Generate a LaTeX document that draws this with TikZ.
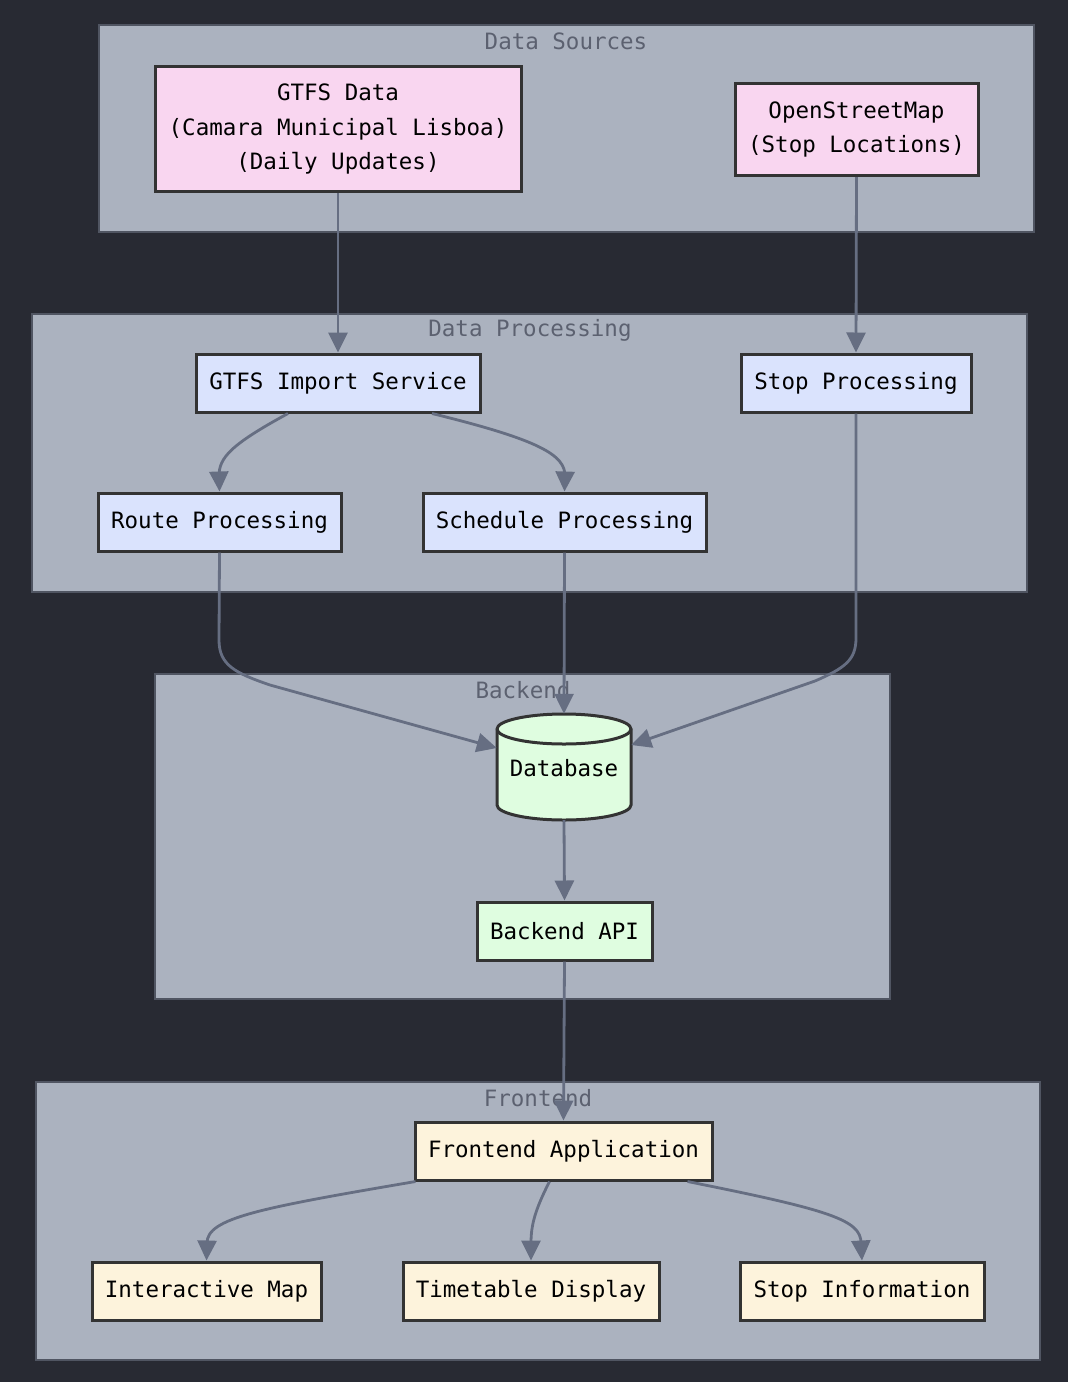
\documentclass[tikz,border=0pt]{standalone}
\usepackage{fontspec}
\setmainfont{DejaVu Sans Mono}
\usetikzlibrary{arrows.meta,calc}
\definecolor{bgc}{RGB}{40,42,51}
\definecolor{clfill}{RGB}{171,178,191}
\definecolor{clline}{RGB}{80,85,98}
\definecolor{cltext}{RGB}{92,97,112}
\definecolor{arrc}{RGB}{102,110,130}
\definecolor{nline}{RGB}{51,51,51}
\definecolor{pinkf}{RGB}{249,214,240}
\definecolor{bluef}{RGB}{218,227,253}
\definecolor{greenf}{RGB}{223,253,224}
\definecolor{creamf}{RGB}{253,243,220}
\tikzset{
  cluster/.style={draw=clline,fill=clfill,line width=1.5},
  cltitle/.style={text=cltext,font=\fontsize{22.5}{28}\selectfont,inner sep=0},
  box/.style={draw=nline,line width=3,inner sep=0,font=\fontsize{22.5}{34.5}\selectfont,align=center,minimum height=58},
  srcbox/.style={box,fill=pinkf},
  procbox/.style={box,fill=bluef},
  bkbox/.style={box,fill=greenf},
  febox/.style={box,fill=creamf},
  conn/.style={draw=arrc,line width=2.8,-{Triangle[length=20pt,width=19pt]}}
}
\begin{document}
\begin{tikzpicture}[x=1pt,y=-1pt]
\fill[bgc] (0,0) rectangle (1068,1382);
\useasboundingbox (0,0) rectangle (1068,1382);
% clusters
\draw[cluster] (99,25) rectangle (1034,232);
\node[cltitle] (t1) at (566,41) {Data Sources};
\draw[cluster] (32,314) rectangle (1027,592);
\node[cltitle] (t2) at (530,330) {Data Processing};
\draw[cluster] (155,674) rectangle (890,999);
\node[cltitle] (t3) at (523,690) {Backend};
\draw[cluster] (36,1082) rectangle (1040,1360);
\node[cltitle] (t4) at (538,1098) {Frontend};
% nodes
\node[srcbox,minimum width=366,minimum height=125] (gtfs) at (338,129) {GTFS Data\\(Camara Municipal Lisboa)\\(Daily Updates)};
\node[srcbox,minimum width=243,minimum height=92] (osm) at (856.5,129.5) {OpenStreetMap\\(Stop Locations)};
\node[procbox,minimum width=284] (imp) at (338,383) {GTFS Import Service};
\node[procbox,minimum width=230] (stop) at (856,383) {Stop Processing};
\node[procbox,minimum width=243] (route) at (219.5,522) {Route Processing};
\node[procbox,minimum width=283] (sched) at (564.5,522) {Schedule Processing};
% database cylinder
\node[inner sep=0,minimum width=134,minimum height=106] (db) at (564,767) {};
\draw[nline,line width=3,fill=greenf] (497,729) -- (497,805) arc[start angle=180,end angle=0,x radius=67,y radius=15] -- (631,729) arc[start angle=0,end angle=-180,x radius=67,y radius=15] -- cycle;
\draw[nline,line width=3] (497,729) arc[start angle=180,end angle=0,x radius=67,y radius=15];
\node[font=\fontsize{22.5}{28}\selectfont,inner sep=0] (dbl) at (564,768) {Database};
\node[bkbox,minimum width=175] (api) at (564.5,931) {Backend API};
\node[febox,minimum width=297] (fe) at (563.5,1151) {Frontend Application};
\node[febox,minimum width=229] (map) at (206.5,1291) {Interactive Map};
\node[febox,minimum width=256] (tt) at (531,1291) {Timetable Display};
\node[febox,minimum width=244] (si) at (862,1291) {Stop Information};
% edges
\draw[conn] (gtfs.south) -- (imp.north);
\draw[conn] (osm.south) -- (stop.north);
\draw[conn] ($(imp.south)+(-50,0)$) .. controls (230,445) and (219,458) .. (219,476) -- (route.north);
\draw[conn] ($(imp.south)+(94,0)$) .. controls (540,440) and (565,455) .. (565,476) -- (sched.north);
\draw[conn] (route.south) -- (219,640) .. controls (219,665) and (235,673) .. (270,685) -- ($(db.west)+(0,-19)$);
\draw[conn] (sched.south) -- (db.north);
\draw[conn] (stop.south) -- (856,638) .. controls (856,660) and (845,668) .. (815,681) -- ($(db.east)+(0,-22)$);
\draw[conn] (db.south) -- (api.north);
\draw[conn] (api.south) -- (fe.north);
\draw[conn] ($(fe.south)+(-148,0)$) .. controls (260,1208) and (207,1218) .. (207,1243) -- (map.north);
\draw[conn] ($(fe.south)+(-14,0)$) .. controls (535,1210) and (531,1225) .. (531,1243) -- (tt.north);
\draw[conn] ($(fe.south)+(124,0)$) .. controls (830,1210) and (861,1220) .. (861,1243) -- (si.north);
\end{tikzpicture}
\end{document}
